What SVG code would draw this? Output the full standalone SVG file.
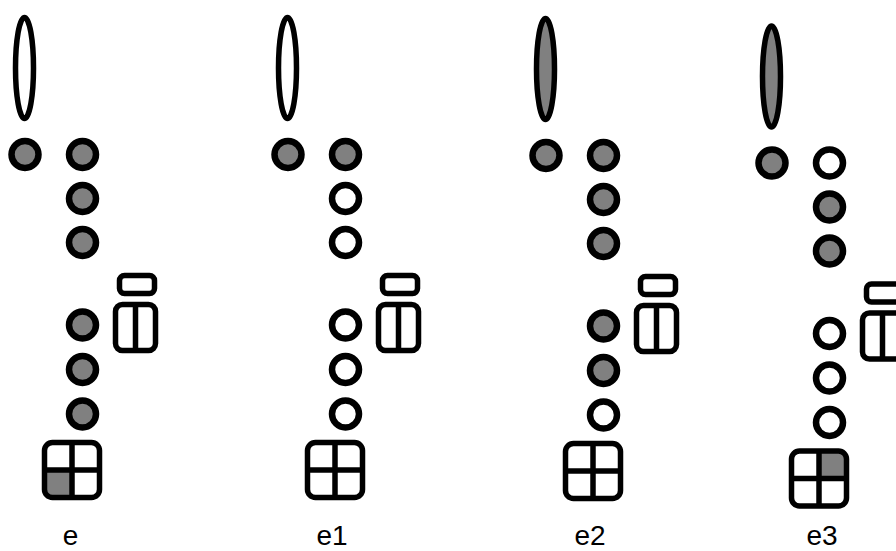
<svg xmlns="http://www.w3.org/2000/svg" width="896" height="551" viewBox="0 0 896 551">
<style>
.o{stroke:#000;stroke-width:5.5;fill:#fff}
.c{stroke:#000;stroke-width:6.5;}
.g{fill:#808080}
.w{fill:#fff}
.l{stroke:#000;stroke-width:5.5;fill:none}
.t{font-family:"Liberation Sans",Arial,sans-serif;font-size:28px;fill:#000;text-anchor:middle}
</style>
<defs>
<g id="rects">
<rect class="o" x="119.5" y="275.5" width="35" height="18" rx="5"/>
<rect class="o" x="115.5" y="304.5" width="40" height="46" rx="7"/>
<line class="l" x1="135.5" y1="304.5" x2="135.5" y2="350.5"/>
</g>
</defs>
<rect width="896" height="551" fill="#fff"/>
<g id="panel-e">
<ellipse class="o" cx="24.5" cy="68" rx="9" ry="50.5"/>
<circle class="c g" cx="25" cy="154.5" r="13.5"/>
<circle class="c g" cx="82.5" cy="154.5" r="13.5"/>
<circle class="c g" cx="82.5" cy="198.5" r="13.5"/>
<circle class="c g" cx="82.5" cy="242.5" r="13.5"/>
<use href="#rects"/>
<circle class="c g" cx="82.5" cy="325" r="13.5"/>
<circle class="c g" cx="82.5" cy="369.5" r="13.5"/>
<circle class="c g" cx="82.5" cy="414" r="13.5"/>
<g id="grid-e">
<rect x="44.5" y="442.5" width="55" height="55" rx="8" fill="#fff"/>
<path class="g" d="M44.5,470 H72 V497.5 H52.5 A8,8 0 0 1 44.5,489.5 Z"/>
<rect class="l" x="44.5" y="442.5" width="55" height="55" rx="8"/>
<line class="l" x1="72" y1="442.5" x2="72" y2="497.5"/>
<line class="l" x1="44.5" y1="470" x2="99.5" y2="470"/>
</g>
<text class="t" x="70.5" y="545">e</text>
</g>
<g id="panel-e1" transform="translate(263,0)">
<ellipse class="o" cx="24.5" cy="68" rx="9" ry="50.5"/>
<circle class="c g" cx="25" cy="154.5" r="13.5"/>
<circle class="c g" cx="82.5" cy="154.5" r="13.5"/>
<circle class="c w" cx="82.5" cy="198.5" r="13.5"/>
<circle class="c w" cx="82.5" cy="242.5" r="13.5"/>
<use href="#rects"/>
<circle class="c w" cx="82.5" cy="325" r="13.5"/>
<circle class="c w" cx="82.5" cy="369.5" r="13.5"/>
<circle class="c w" cx="82.5" cy="414" r="13.5"/>
<g id="grid-e1">
<rect class="o" x="44.5" y="442.5" width="55" height="55" rx="8"/>
<line class="l" x1="72" y1="442.5" x2="72" y2="497.5"/>
<line class="l" x1="44.5" y1="470" x2="99.5" y2="470"/>
</g>
<text class="t" x="69" y="545">e1</text>
</g>
<g id="panel-e2" transform="translate(521,1)">
<ellipse class="o g" cx="24.5" cy="68" rx="9" ry="50.5"/>
<circle class="c g" cx="25" cy="154.5" r="13.5"/>
<circle class="c g" cx="82.5" cy="154.5" r="13.5"/>
<circle class="c g" cx="82.5" cy="198.5" r="13.5"/>
<circle class="c g" cx="82.5" cy="242.5" r="13.5"/>
<use href="#rects"/>
<circle class="c g" cx="82.5" cy="325" r="13.5"/>
<circle class="c g" cx="82.5" cy="369.5" r="13.5"/>
<circle class="c w" cx="82.5" cy="414" r="13.5"/>
<g id="grid-e2">
<rect class="o" x="44.5" y="442.5" width="55" height="55" rx="8"/>
<line class="l" x1="72" y1="442.5" x2="72" y2="497.5"/>
<line class="l" x1="44.5" y1="470" x2="99.5" y2="470"/>
</g>
<text class="t" x="69" y="544">e2</text>
</g>
<g id="panel-e3" transform="translate(747,8.5)">
<ellipse class="o g" cx="24.5" cy="68" rx="9" ry="50.5"/>
<circle class="c g" cx="25" cy="154.5" r="13.5"/>
<circle class="c w" cx="82.5" cy="154.5" r="13.5"/>
<circle class="c g" cx="82.5" cy="198.5" r="13.5"/>
<circle class="c g" cx="82.5" cy="242.5" r="13.5"/>
<use href="#rects"/>
<circle class="c w" cx="82.5" cy="325" r="13.5"/>
<circle class="c w" cx="82.5" cy="369.5" r="13.5"/>
<circle class="c w" cx="82.5" cy="414" r="13.5"/>
<g id="grid-e3">
<rect x="44.5" y="442.5" width="55" height="55" rx="8" fill="#fff"/>
<path class="g" d="M72,442.5 H91.5 A8,8 0 0 1 99.5,450.5 V470 H72 Z"/>
<rect class="l" x="44.5" y="442.5" width="55" height="55" rx="8"/>
<line class="l" x1="72" y1="442.5" x2="72" y2="497.5"/>
<line class="l" x1="44.5" y1="470" x2="99.5" y2="470"/>
</g>
<text class="t" x="75" y="536.5">e3</text>
</g>
</svg>
